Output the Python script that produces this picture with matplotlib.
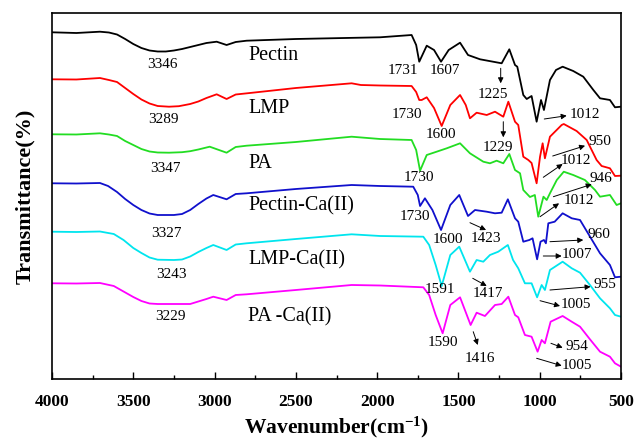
import matplotlib
matplotlib.use("Agg")
import matplotlib.pyplot as plt
from matplotlib.ticker import MultipleLocator

plt.rcParams['font.family'] = ['Liberation Serif', 'DejaVu Serif']
plt.rcParams['mathtext.fontset'] = 'custom'
plt.rcParams['mathtext.rm'] = 'Liberation Serif:bold'
plt.rcParams['mathtext.bf'] = 'Liberation Serif:bold'
plt.rcParams['mathtext.it'] = 'Liberation Serif:bold'
plt.rcParams['mathtext.default'] = 'bf'

# ---------------- data (wavenumber, offset transmittance in arbitrary units) ----------------
pectin_wn = [4000, 3850, 3705, 3650, 3600, 3550, 3500, 3450, 3400, 3350, 3300, 3250, 3200, 3150,
             3100, 3050, 2987, 2926, 2870, 2803, 2500,
             2200, 1982, 1788, 1760, 1741, 1695, 1650, 1607, 1560, 1490, 1441, 1367, 1287, 1234,
             1187, 1152, 1138, 1101, 1080, 1050, 1019, 992, 974, 937, 900, 859, 794, 732, 670,
             629, 568, 537, 500]
pectin_t = [346.7, 346, 347.3, 346.5, 344.5, 340, 335, 331, 328.5, 327.5, 327.5, 328.5, 330, 332,
            334, 336, 337.3, 334, 337, 338.3, 340,
            341, 341.7, 344, 334, 317.3, 333.3, 329, 317.3, 329, 336.3, 324, 319.7, 317.3, 315.7,
            329.7, 314, 312.3, 284, 280, 283, 257.3, 279, 269, 299, 309, 312.3, 308, 302.3, 289,
            280.7, 279, 271.7, 272.3]

lmp_wn = [4000, 3850, 3705, 3650, 3600, 3550, 3500, 3450, 3400, 3350, 3280, 3220, 3150, 3100,
          3050, 2987, 2926, 2870, 2800, 2500, 2157,
          2100, 1982, 1788, 1760, 1741, 1726, 1695, 1650, 1603, 1550, 1490, 1455, 1429, 1388,
          1326, 1275, 1224, 1193, 1152, 1132, 1101, 1070, 1050, 1019, 998, 982, 968, 937, 865,
          852, 773, 711, 650, 619, 568, 537, 500]
lmp_t = [299.7, 299.5, 301, 299, 297, 291, 285, 279.5, 275.5, 273, 272.3, 272.8, 275, 277.5,
         281, 284.7, 280, 284.5, 285.7, 291, 295.7,
         294, 293.5, 293, 287, 279, 279, 281.7, 271, 253, 274, 284, 274, 260.7, 266.3,
         264, 267.3, 262.3, 277.3, 257.3, 254, 222.3, 219, 216, 195.7, 222.3, 235.7, 220.7, 242.3, 254,
         255, 248, 239, 219, 213, 210.7, 203, 203.3]

pa_wn = [4000, 3850, 3705, 3650, 3600, 3550, 3500, 3450, 3400, 3350, 3280, 3200, 3150, 3100,
         3030, 2926, 2870, 2803, 2500, 2157,
         1982, 1788, 1760, 1736, 1695, 1634, 1572, 1490, 1429, 1347, 1306, 1265, 1224, 1187,
         1152, 1121, 1101, 1060, 1030, 1009, 977, 957, 937, 895, 852, 794, 722, 660, 629,
         568, 527, 500]
pa_t = [244.7, 244.5, 245.7, 244.5, 243, 238, 234, 230, 227.5, 226.5, 226.3, 226.8, 227.8, 229.5,
        232.3, 226.3, 232, 233.3, 237, 242.3,
        240, 239, 229, 208.3, 224, 227.3, 230.7, 235.7, 225.7, 217.3, 215.7, 218.3, 215.7, 225,
        209, 205.7, 189, 182, 184, 162.3, 182.3, 179, 185.7, 199, 207.3, 204, 199, 189, 182.3,
        184, 174, 175.7]

pectin_ca_wn = [4000, 3850, 3705, 3655, 3600, 3550, 3500, 3450, 3400, 3350, 3250, 3200, 3150,
                3100, 3050, 3008, 2926, 2870, 2803, 2500,
                2157, 1982, 1778, 1750, 1736, 1706, 1660, 1607, 1550, 1495, 1441, 1398, 1326,
                1275, 1234, 1196, 1152, 1132, 1101, 1064, 1044, 1016, 995, 974, 962, 947, 908,
                859, 803, 752, 703, 629, 568, 537, 500]
pectin_ca_t = [195.7, 195.5, 196, 193, 187, 180, 174, 169, 165.5, 164, 164, 165, 169,
               175, 180.5, 184, 179.7, 185, 185.7, 190,
               194, 193, 192.3, 184, 173, 180.7, 169, 149, 174, 184, 163, 169, 167.3,
               165.7, 166.3, 179.7, 160.7, 157.3, 137.3, 139, 140.7, 119.7, 137.3, 139, 135.7, 155.7, 157.3,
               165.7, 160.7, 159, 145.7, 125.7, 114, 101.7, 102.3]

lmp_ca_wn = [4000, 3850, 3705, 3620, 3560, 3500, 3450, 3400, 3350, 3250, 3200, 3150, 3100, 3050,
             3008, 2926, 2870, 2803, 2500, 2157,
             1982, 1716, 1680, 1640, 1603, 1550, 1495, 1429, 1388, 1347, 1306, 1255, 1196, 1164,
             1132, 1091, 1050, 1016, 988, 968, 937, 859, 803, 752, 691, 629, 568, 537, 500]
lmp_ca_t = [147.3, 147, 147.5, 145, 139, 131, 126, 121.5, 119.3, 119, 119.5, 122.5, 127, 131,
            134, 129, 134.5, 135.7, 140, 144.7,
            143, 142.3, 134, 114, 93, 124, 132.3, 107.3, 119, 117.3, 124, 127.3, 134, 119,
            110.7, 95.7, 95.7, 81.7, 94, 89, 109, 117.3, 110.7, 106.3, 94, 80.7, 70.7, 64, 62.3]

pa_ca_wn = [4000, 3850, 3705, 3620, 3560, 3500, 3450, 3400, 3350, 3150, 3100, 3050, 3008, 2926,
            2870, 2803, 2500, 2157,
            1982, 1716, 1680, 1640, 1597, 1550, 1490, 1425, 1388, 1337, 1275, 1234, 1193, 1152,
            1132, 1091, 1050, 1013, 988, 968, 933, 859, 803, 752, 691, 629, 568, 537, 500]
pa_ca_t = [95.7, 95.5, 96, 93, 87.5, 82, 78, 75.5, 75, 75, 77.5, 80, 82.3, 79,
           84, 84.7, 89, 94,
           93.5, 91.7, 84, 64, 45.7, 74, 81.7, 54, 66.3, 63, 74, 75, 82.3, 64,
           61.7, 44, 42.3, 27.3, 39, 35.7, 57.3, 63, 57.3, 52.3, 39.7, 27.3, 22.3, 15.7, 12.3]

series_names = ['Pectin', 'LMP', 'PA', 'Pectin-Ca(II)', 'LMP-Ca(II)', 'PA -Ca(II)']
series_wn = [pectin_wn, lmp_wn, pa_wn, pectin_ca_wn, lmp_ca_wn, pa_ca_wn]
series_t = [pectin_t, lmp_t, pa_t, pectin_ca_t, lmp_ca_t, pa_ca_t]
series_colors = ['#000000', '#ff0000', '#22dd22', '#1010cc', '#00e5ee', '#ff00ff']

# series name labels: (x, y)
name_x = 2793
name_y = [324, 270.7, 215.7, 173, 119, 61.7]

# peak labels without arrows: (text, x, y)
peak_labels = [
    ('3346', 3320, 314), ('3289', 3315, 259.7), ('3347', 3300, 210.7),
    ('3327', 3295, 145.7), ('3243', 3268, 104), ('3229', 3274, 62.3),
    ('1731', 1844, 308), ('1607', 1586, 308), ('1730', 1816, 264.7),
    ('1600', 1605, 244.7), ('1730', 1743, 201.3), ('1730', 1770, 163),
    ('1600', 1567, 139.7), ('1591', 1611, 89.7), ('1590', 1598, 36.3),
]

# peak labels with arrows: (text, text_x, text_y, arrow_start_x, arrow_start_y, arrow_end_x, arrow_end_y)
arrow_labels = [
    ('1225', 1290, 285, 1240, 310.7, 1240, 295.7),
    ('1229', 1255, 231.3, 1224, 257.3, 1224, 241.7),
    ('1012', 720, 264.7, 972, 260, 834, 263.3),
    ('950', 627, 237.3, 920, 223, 721, 233.3),
    ('1012', 776, 219, 978, 201.7, 859, 215),
    ('946', 621, 200, 916, 182.3, 680, 194.7),
    ('1012', 757, 178, 998, 162.3, 881, 175.7),
    ('1423', 1333, 140.7, 1429, 156.3, 1330, 149),
    ('960', 633, 145, 937, 137.3, 732, 139),
    ('1007', 773, 125, 978, 123, 865, 123),
    ('1417', 1316, 85.7, 1412, 100.7, 1326, 93),
    ('955', 598, 95, 937, 89, 687, 92.3),
    ('1005', 778, 74, 998, 78.3, 875, 73),
    ('1416', 1370, 20, 1409, 47.3, 1381, 34),
    ('954', 770, 32.3, 931, 35.7, 859, 31.3),
    ('1005', 773, 13.3, 1019, 20.7, 865, 13.3),
]

xticks = [4000, 3500, 3000, 2500, 2000, 1500, 1000, 500]

# ---------------- plot ----------------
fig = plt.figure(figsize=(6.36, 4.43), dpi=100)
ax = fig.add_axes([52 / 636, 1 - 379 / 443, 569 / 636, 366 / 443])

for wn, t, c in zip(series_wn, series_t, series_colors):
    ax.plot(wn, t, color=c, lw=1.3)

for name, y in zip(series_names, name_y):
    ax.text(name_x, y, name, ha='left', va='center', fontsize=14.5)

for txt, x, y in peak_labels:
    ax.text(x, y, txt, ha='center', va='center', fontsize=11)

for txt, tx, ty, sx, sy, ex, ey in arrow_labels:
    ax.text(tx, ty, txt, ha='center', va='center', fontsize=11)
    ax.annotate('', xy=(ex, ey), xytext=(sx, sy),
                arrowprops=dict(arrowstyle='-|>', color='black', lw=0.7,
                                mutation_scale=8, shrinkA=0, shrinkB=0))

ax.set_xlim(4000, 500)
ax.set_ylim(0, 366)
ax.set_xticks(xticks)
ax.set_xticklabels([str(v) for v in xticks])
ax.xaxis.set_minor_locator(MultipleLocator(250))
ax.set_yticks([])
ax.tick_params(axis='x', which='major', direction='in', length=5, width=1, pad=11,
               labelsize=12.5)
ax.tick_params(axis='x', which='minor', direction='in', length=3, width=1)
for lab in ax.get_xticklabels():
    lab.set_fontweight('bold')
for s in ax.spines.values():
    s.set_linewidth(1.2)

ax.set_xlabel(r'Wavenumber(cm$^{-1}$)', fontsize=15.5, fontweight='bold', labelpad=3)
ax.set_ylabel('Transmittance(%)', fontsize=16, fontweight='bold', labelpad=12)

fig.savefig('out.png', dpi=100)
